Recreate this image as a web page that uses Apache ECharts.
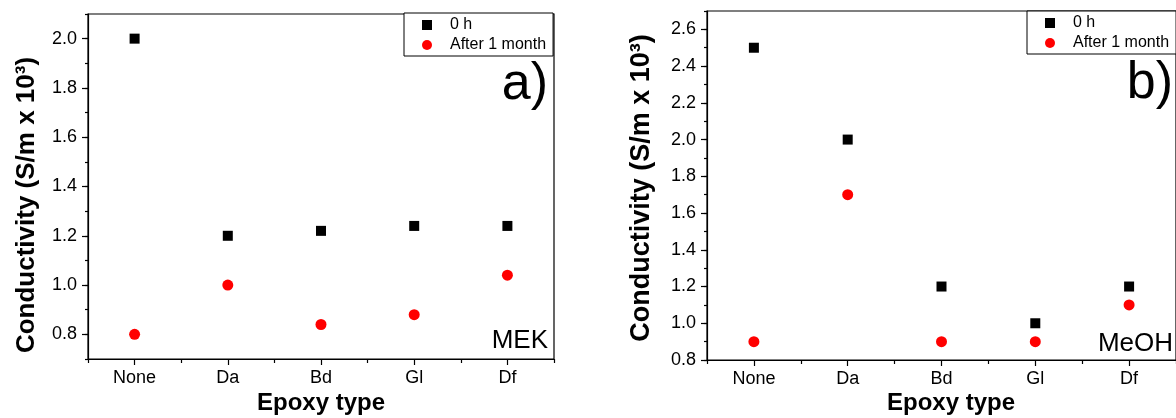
<!DOCTYPE html>
<html>
<head>
<meta charset="utf-8">
<script src="https://cdn.jsdelivr.net/npm/echarts@6/dist/echarts.min.js"></script>
<style>
  html, body { margin: 0; padding: 0; background: #fff; }
  #chart { width: 1176px; height: 418px; }
</style>
</head>
<body>
<div id="chart"></div>
<script>
// Epoxy types on the category axis
const categories = ['None', 'Da', 'Bd', 'Gl', 'Df'];

// Panel a) MEK: conductivity (S/m x 10^3)
const mek0h = [2.0, 1.2, 1.22, 1.24, 1.24];
const mek1month = [0.8, 1.0, 0.84, 0.88, 1.04];

// Panel b) MeOH: conductivity (S/m x 10^3)
const meoh0h = [2.5, 2.0, 1.2, 1.0, 1.2];
const meoh1month = [0.9, 1.7, 0.9, 0.9, 1.1];

// Labelled y ticks
const mekTicks = [0.8, 1.0, 1.2, 1.4, 1.6, 1.8, 2.0];
const meohTicks = [0.8, 1.0, 1.2, 1.4, 1.6, 1.8, 2.0, 2.2, 2.4, 2.6];

const seriesNames = ['0 h', 'After 1 month'];
const FONT = 'Liberation Sans, Arial, sans-serif';
const BLACK = '#000';
const RED = '#ff0000';

const chart = echarts.init(document.getElementById('chart'), null, { renderer: 'canvas' });

const pairs = vals => vals.map((v, i) => [categories[i], v]);

const grids = [
  { left: 88, top: 14, width: 466, height: 345 },
  { left: 707, top: 11, width: 472, height: 349 }
];

function xAxesFor(g) {
  return [
    { // minor ticks between categories
      gridIndex: g, type: 'category', position: 'bottom', data: categories, boundaryGap: true,
      axisLine: { show: true, lineStyle: { color: BLACK, width: 1.2 } },
      axisTick: { show: true, interval: 0, length: 4, lineStyle: { color: BLACK, width: 1.2 } },
      axisLabel: { show: false }, splitLine: { show: false }
    },
    { // major ticks and labels at categories
      gridIndex: g, type: 'category', position: 'bottom', data: categories, boundaryGap: true,
      axisLine: { show: false },
      axisTick: { show: true, interval: 0, alignWithLabel: true, length: 6, lineStyle: { color: BLACK, width: 1.2 } },
      axisLabel: { show: true, interval: 0, margin: 10, fontSize: 18, color: BLACK, fontFamily: FONT },
      splitLine: { show: false }
    }
  ];
}

function yAxesFor(g, min, max, ticks) {
  return [
    { // minor ticks every 0.1
      gridIndex: g, type: 'value', position: 'left', min: min, max: max, interval: 0.1,
      axisLine: { show: true, lineStyle: { color: BLACK, width: 1.2 } },
      axisTick: { show: true, length: 3, lineStyle: { color: BLACK, width: 1.2 } },
      axisLabel: { show: false }, splitLine: { show: false }
    },
    { // major ticks with labels
      gridIndex: g, type: 'value', position: 'left', min: min, max: max,
      axisLine: { show: false },
      axisTick: { show: true, length: 6, customValues: ticks, lineStyle: { color: BLACK, width: 1.2 } },
      axisLabel: {
        show: true, customValues: ticks, margin: 11, fontSize: 18, color: BLACK, fontFamily: FONT,
        formatter: v => Number(v).toFixed(1)
      },
      splitLine: { show: false }
    }
  ];
}

function scatterFor(g, blackVals, redVals) {
  return [
    {
      name: seriesNames[0], type: 'scatter', xAxisIndex: g * 2 + 1, yAxisIndex: g * 2,
      symbol: 'rect', symbolSize: 10, itemStyle: { color: BLACK, opacity: 1 }, data: pairs(blackVals), z: 3
    },
    {
      name: seriesNames[1], type: 'scatter', xAxisIndex: g * 2 + 1, yAxisIndex: g * 2,
      symbol: 'circle', symbolSize: 11, itemStyle: { color: RED, opacity: 1 }, data: pairs(redVals), z: 4
    }
  ];
}

function legendAt(left, top) {
  return {
    orient: 'vertical', left: left, top: top,
    data: [{ name: seriesNames[0], icon: 'rect' }, { name: seriesNames[1], icon: 'circle' }],
    itemWidth: 10, itemHeight: 10, itemGap: 4,
    padding: [4, 7, 3, 18],
    selectedMode: false,
    backgroundColor: '#fff', borderColor: BLACK, borderWidth: 1,
    itemStyle: { opacity: 1 },
    textStyle: { fontSize: 16, lineHeight: 16, color: BLACK, fontFamily: FONT, padding: [0, 0, 0, 13] }
  };
}

function label(text, x, y, size, opts) {
  return Object.assign({
    type: 'text', x: x, y: y, z: 10,
    style: Object.assign({
      text: text, font: size + 'px ' + FONT, fill: BLACK,
      align: 'center', verticalAlign: 'middle'
    }, opts && opts.style)
  }, opts && opts.el);
}

chart.setOption({
  backgroundColor: '#fff',
  animation: false,
  grid: grids.map(g => Object.assign({ show: true, borderColor: BLACK, borderWidth: 1.2, backgroundColor: 'transparent' }, g)),
  xAxis: [...xAxesFor(0), ...xAxesFor(1)],
  yAxis: [...yAxesFor(0, 0.7, 2.1, mekTicks), ...yAxesFor(1, 0.8, 2.7, meohTicks)],
  legend: [legendAt(404, 13), legendAt(1027, 11)],
  series: [...scatterFor(0, mek0h, mek1month), ...scatterFor(1, meoh0h, meoh1month)],
  graphic: [
    // axis titles
    label('Epoxy type', 321, 403, 24, { style: { font: 'bold 24px ' + FONT } }),
    label('Epoxy type', 951, 403, 24, { style: { font: 'bold 24px ' + FONT } }),
    label('Conductivity (S/m x 10³)', 27, 205, 26, { style: { font: 'bold 26px ' + FONT }, el: { rotation: Math.PI / 2 } }),
    label('Conductivity (S/m x 10³)', 642, 188, 27, { style: { font: 'bold 27px ' + FONT }, el: { rotation: Math.PI / 2 } }),
    // panel tags
    label('a)', 548, 85, 52, { style: { align: 'right' } }),
    label('b)', 1173, 84, 52, { style: { align: 'right' } }),
    // solvent names
    label('MEK', 548, 341, 26, { style: { align: 'right' } }),
    label('MeOH', 1173, 344, 26, { style: { align: 'right' } })
  ]
});
</script>
</body>
</html>
